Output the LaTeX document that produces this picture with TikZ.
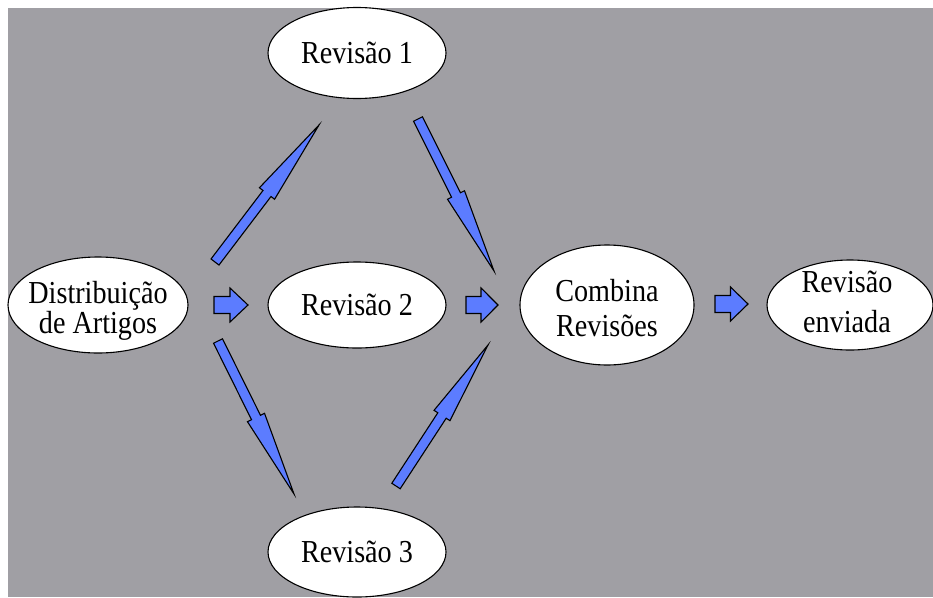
\documentclass[tikz,border=0pt]{standalone}
\usepackage{fontspec}
\newfontfamily\lblfont[FakeStretch=0.88]{Liberation Serif}
\usetikzlibrary{shapes.geometric,calc}
\definecolor{panelgray}{RGB}{160,159,164}
\definecolor{arrowblue}{RGB}{92,124,255}
% block arrow from #1 to #2: half shaft width #3, half head width #4,
% head starting at fraction #5 of the length
\newcommand\blockarrow[5]{%
  \filldraw[flow] ($(#1)!#3!90:(#2)$)
    -- ($(#1)!#5!(#2)!#3!90:(#2)$)
    -- ($(#1)!#5!(#2)!#4!90:(#2)$)
    -- (#2)
    -- ($(#1)!#5!(#2)!#4!270:(#2)$)
    -- ($(#1)!#5!(#2)!#3!270:(#2)$)
    -- ($(#1)!#3!270:(#2)$) -- cycle;}
\begin{document}
\begin{tikzpicture}[x=1pt,y=-1pt,
  stage/.style={ellipse,draw=black,line width=1.1pt,fill=white,inner sep=0pt},
  stagetext/.style={font=\lblfont\fontsize{32}{#1}\selectfont,align=center,inner sep=0pt},
  stagetext/.default=30,
  flow/.style={fill=arrowblue,draw=black,line width=1.1pt,line join=miter}]
\useasboundingbox (0,0) rectangle (933,597);
\fill[white] (0,0) rectangle (933,597);
\fill[panelgray] (8,8) rectangle (933,597);

% stages
\node[stage,minimum width=180pt,minimum height=96pt] (dist) at (98,305) {};
\node[stage,minimum width=178pt,minimum height=91pt] (rev1) at (357,53) {};
\node[stage,minimum width=178pt,minimum height=86pt] (rev2) at (357,305) {};
\node[stage,minimum width=178pt,minimum height=90pt] (rev3) at (357,552) {};
\node[stage,minimum width=174pt,minimum height=120pt] (comb) at (607,305) {};
\node[stage,minimum width=166pt,minimum height=90pt] (sent) at (850,305) {};

\node[stagetext=27] (dist-t) at ($(dist)+(0,6)$) {Distribuição\\de Artigos};
\node[stagetext] (rev1-t) at (rev1) {Revisão 1};
\node[stagetext] (rev2-t) at (rev2) {Revisão 2};
\node[stagetext] (rev3-t) at (rev3) {Revisão 3};
\node[stagetext=35] (comb-t) at ($(comb)+(0,3)$) {Combina\\Revisões};
\node[stagetext=40] (sent-t) at ($(sent)+(-3,-3)$) {Revisão\\enviada};

% arrow end points
\coordinate (a1s) at (215,262); \coordinate (a1e) at (319,125);
\coordinate (a2s) at (418,119); \coordinate (a2e) at (494,271);
\coordinate (a3s) at (218,341); \coordinate (a3e) at (294,494);
\coordinate (a4s) at (396,486); \coordinate (a4e) at (488,345);
\coordinate (s1s) at (214,305); \coordinate (s1e) at (248,305);
\coordinate (s2s) at (466,305); \coordinate (s2e) at (498,305);
\coordinate (s3s) at (715,304); \coordinate (s3e) at (748,304);

% review branches
\blockarrow{a1s}{a1e}{5pt}{9.5pt}{0.5}
\blockarrow{a2s}{a2e}{5pt}{9.5pt}{0.5}
\blockarrow{a3s}{a3e}{5pt}{9.5pt}{0.5}
\blockarrow{a4s}{a4e}{5pt}{9.5pt}{0.5}

% straight flow
\blockarrow{s1s}{s1e}{8.5pt}{17pt}{0.47}
\blockarrow{s2s}{s2e}{8.5pt}{17pt}{0.47}
\blockarrow{s3s}{s3e}{8.5pt}{17pt}{0.47}
\end{tikzpicture}
\end{document}
